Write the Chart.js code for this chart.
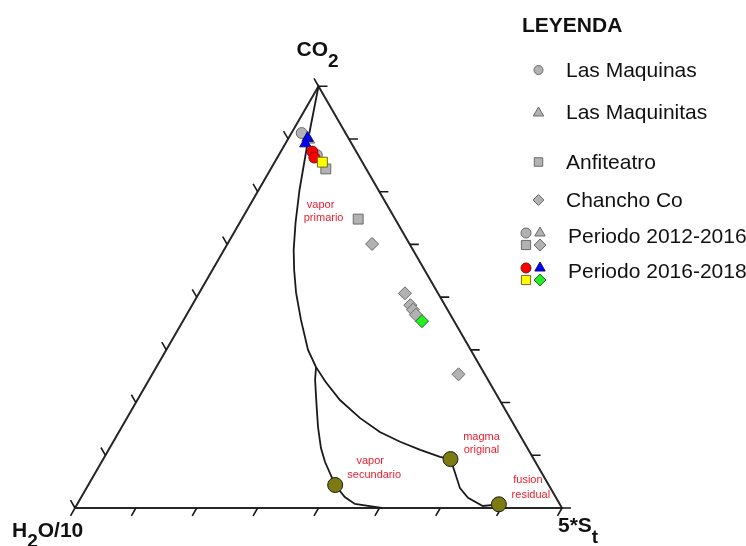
<!DOCTYPE html>
<html><head><meta charset="utf-8">
<script src="https://cdn.jsdelivr.net/npm/chart.js@4.4.0/dist/chart.umd.min.js"></script>
<style>html,body{margin:0;padding:0;background:#fff}#wrap{width:746px;height:546px;position:relative}</style>
</head><body><div id="wrap"><canvas id="c" width="746" height="546"></canvas></div>
<script>
// Ternary compositions in percent: [CO2, 5*St]  (H2O/10 = 100 - CO2 - 5*St)
const lasMaquinas1216   = [[88.9, 2.1], [83.7, 7.8]];
const lasMaquinitas1216 = [[87.3, 4.4]];
const anfiteatro1216    = [[80.4, 11.3], [68.5, 23.9]];
const chanchoCo1216     = [[62.6, 29.7], [50.9, 42.3], [48.1, 44.8], [47.0, 45.9], [45.8, 47.1], [31.7, 62.9]];
const lasMaquinas1618   = [[84.5, 6.5], [83.1, 7.6]];
const lasMaquinitas1618 = [[87.7, 3.9], [86.4, 4.1]];
const anfiteatro1618    = [[82.0, 9.8]];
const chanchoCo1618     = [[44.3, 49.1]];

// Model curves (percent [CO2, 5*St])
const curvePrimario   = [[100, 0], [88.5, 3.8], [75.4, 8.4], [67.8, 11.4], [61.2, 14.3], [56.4, 16.8], [51.0, 19.9], [44.6, 24.1], [37.5, 29.1], [33.4, 32.8]];
const curveSecundario = [[33.4, 32.8], [30.4, 34.1], [24.4, 37.4], [19.2, 40.3], [14.2, 43.4], [10.9, 45.9], [5.45, 50.7], [2.6, 54.1], [0.95, 57.0], [0.47, 60.3], [0, 63.0]];
const curveMagma      = [[33.4, 32.8], [30.0, 36.4], [25.6, 41.6], [21.3, 47.9], [18.0, 53.6], [15.7, 58.9], [13.8, 64.0], [12.1, 68.9], [11.6, 71.3]];
const curveFusion     = [[11.6, 71.3], [8.3, 73.9], [4.7, 76.7], [2.4, 79.5], [0.47, 83.5], [0.88, 86.6]];
const endMembers      = [[5.45, 50.7], [11.6, 71.3], [0.88, 86.6]];
const endMemberNames  = [["vapor", "secundario"], ["magma", "original"], ["fusion", "residual"]];

const tickSteps = [0, 12.5, 25, 37.5, 50, 62.5, 75, 87.5, 100];
const axisNames = { top: ["CO", "2", ""], left: ["H", "2", "O/10"], right: ["5*S", "t", ""] };
const legendSites = ["Las Maquinas", "Las Maquinitas", "Anfiteatro", "Chancho Co"];
const legendPeriods = ["Periodo 2012-2016", "Periodo 2016-2018"];

const R3 = Math.sqrt(3) / 2;
function xy(p) { const c = p[0] / 100, s = p[1] / 100; return { x: s + c / 2, y: c * R3 }; }

// Pixel frame: 1 ternary unit = 487px; H2O vertex at (75,508)
const U = 487;
const xMin = -75 / U, xMax = (746 - 75) / U;
const yMin = -(546 - 508) / U, yMax = 508 / U;
const TL = 9 / U; // tick length

const tickData = [];
function addTick(p, dx, dy) {
  tickData.push({ x: p.x, y: p.y }, { x: p.x + dx * TL, y: p.y + dy * TL }, { x: NaN, y: NaN });
}
tickSteps.forEach(t => {
  addTick(xy([0, t]), -0.5, -R3);          // base: down-left
  addTick(xy([t, 0]), -0.5, R3);           // left edge: up-left
  addTick(xy([t, 100 - t]), 1, 0);         // right edge: right
});
const frame = [xy([0, 0]), xy([0, 100]), xy([100, 0]), xy([0, 0])];

const GRAY = '#b2b2b2', GRAYB = '#6a6a6a';
const FONT = "'Liberation Sans', Arial, sans-serif";

function pts(arr) { return arr.map(xy); }
function markerSet(data, style, fill, stroke, r) {
  return { type: 'scatter', data: pts(data), pointStyle: style, pointRadius: r, pointHoverRadius: r,
    backgroundColor: fill, borderColor: stroke, pointBorderWidth: 1, borderWidth: 1, showLine: false, clip: false };
}
function lineSet(data, w, color) {
  return { type: 'line', data: Array.isArray(data[0]) ? pts(data) : data, showLine: true, borderColor: color,
    borderWidth: w, pointRadius: 0, pointHoverRadius: 0, fill: false, tension: 0, spanGaps: false, clip: false };
}

const datasets = [
  markerSet(endMembers, 'circle', '#7b7b12', '#1a1a1a', 7.5),
  markerSet(chanchoCo1618, 'rectRot', '#22ee22', '#2a6a2a', 6.5),
  markerSet(anfiteatro1618, 'rect', '#ffff00', '#6a6a2a', 7),
  markerSet(lasMaquinas1618, 'circle', '#ff0000', '#7a1010', 5.5),
  markerSet(lasMaquinitas1618, 'triangle', '#0000ff', '#10106a', 6.5),
  markerSet(lasMaquinitas1216, 'triangle', GRAY, GRAYB, 6.5),
  markerSet(lasMaquinas1216, 'circle', GRAY, GRAYB, 5.5),
  markerSet(anfiteatro1216, 'rect', GRAY, GRAYB, 7),
  markerSet(chanchoCo1216, 'rectRot', GRAY, GRAYB, 6.5),
  lineSet(curvePrimario, 1.8, '#1a1a1a'),
  lineSet(curveSecundario, 1.8, '#1a1a1a'),
  lineSet(curveMagma, 1.8, '#1a1a1a'),
  lineSet(curveFusion, 1.8, '#1a1a1a'),
  lineSet(tickData, 1.6, '#1a1a1a'),
  lineSet(frame, 2, '#262626')
];

function drawMarker(ctx, style, x, y, r, fill, stroke) {
  ctx.save(); ctx.beginPath();
  if (style === 'circle') ctx.arc(x, y, r, 0, Math.PI * 2);
  else if (style === 'rect') { const h = r * Math.SQRT1_2; ctx.rect(x - h, y - h, 2 * h, 2 * h); }
  else if (style === 'rectRot') { ctx.moveTo(x, y - r); ctx.lineTo(x + r, y); ctx.lineTo(x, y + r); ctx.lineTo(x - r, y); ctx.closePath(); }
  else if (style === 'triangle') { ctx.moveTo(x, y - r); ctx.lineTo(x + r * R3, y + r / 2); ctx.lineTo(x - r * R3, y + r / 2); ctx.closePath(); }
  ctx.fillStyle = fill; ctx.fill(); ctx.strokeStyle = stroke; ctx.lineWidth = 1; ctx.stroke(); ctx.restore();
}

function subText(ctx, parts, x, y, size, subSize, drop) {
  ctx.textBaseline = 'alphabetic'; ctx.textAlign = 'left';
  ctx.font = 'bold ' + size + 'px ' + FONT; ctx.fillText(parts[0], x, y);
  x += ctx.measureText(parts[0]).width;
  ctx.font = 'bold ' + subSize + 'px ' + FONT; ctx.fillText(parts[1], x, y + drop);
  x += ctx.measureText(parts[1]).width;
  ctx.font = 'bold ' + size + 'px ' + FONT; ctx.fillText(parts[2], x, y);
}

const overlay = {
  id: 'overlay',
  afterDraw(chart) {
    const ctx = chart.ctx, sx = chart.scales.x, sy = chart.scales.y;
    const px = p => ({ x: sx.getPixelForValue(p.x), y: sy.getPixelForValue(p.y) });
    ctx.save();
    ctx.fillStyle = '#111';
    const top = px(xy([100, 0])), left = px(xy([0, 0])), right = px(xy([0, 100]));
    subText(ctx, axisNames.top, top.x - 22, top.y - 30, 21, 19, 11);
    subText(ctx, axisNames.left, left.x - 63, left.y + 29, 21, 19, 10);
    subText(ctx, axisNames.right, right.x - 4, right.y + 24, 21, 19, 11);

    // red annotations
    ctx.fillStyle = '#ee1c2e'; ctx.font = '11px ' + FONT; ctx.textAlign = 'center'; ctx.textBaseline = 'middle';
    const prim = px(xy(curvePrimario[3]));
    ctx.fillText('vapor', prim.x + 25, prim.y - 17);
    ctx.fillText('primario', prim.x + 28, prim.y - 4);
    const offs = [[35, -24, 39, -10], [31, -22, 31, -9], [29, -24, 32, -9]];
    endMembers.forEach((m, i) => {
      const p = px(xy(m)), o = offs[i];
      ctx.fillText(endMemberNames[i][0], p.x + o[0], p.y + o[1]);
      ctx.fillText(endMemberNames[i][1], p.x + o[2], p.y + o[3]);
    });

    // legend
    ctx.fillStyle = '#111'; ctx.textAlign = 'left'; ctx.textBaseline = 'alphabetic';
    ctx.font = 'bold 21px ' + FONT; ctx.fillText('LEYENDA', 522, 32);
    ctx.font = '21px ' + FONT; ctx.textBaseline = 'middle';
    const styles = ['circle', 'triangle', 'rect', 'rectRot'];
    const rows = [71, 113, 163, 201];
    const lr = [4.5, 6, 6, 5.5];
    legendSites.forEach((name, i) => {
      drawMarker(ctx, styles[i], 538.5, rows[i] - (i === 1 ? 0 : 1), lr[i], GRAY, GRAYB);
      ctx.fillStyle = '#111'; ctx.fillText(name, 566, rows[i]);
    });
    const pRows = [237, 272];
    const pCols = [[GRAY, GRAY, GRAY, GRAY], ['#ff0000', '#0000ff', '#ffff00', '#22ee22']];
    const pStroke = [[GRAYB, GRAYB, GRAYB, GRAYB], ['#7a1010', '#10106a', '#6a6a2a', '#2a6a2a']];
    legendPeriods.forEach((name, i) => {
      const y = pRows[i];
      drawMarker(ctx, 'circle', 526, y - 4, 5, pCols[i][0], pStroke[i][0]);
      drawMarker(ctx, 'triangle', 540, y - 4, 6, pCols[i][1], pStroke[i][1]);
      drawMarker(ctx, 'rect', 526, y + 8, 6.5, pCols[i][2], pStroke[i][2]);
      drawMarker(ctx, 'rectRot', 540, y + 8, 6, pCols[i][3], pStroke[i][3]);
      ctx.fillStyle = '#111'; ctx.fillText(name, 568, y);
    });
    ctx.restore();
  }
};

new Chart(document.getElementById('c'), {
  type: 'scatter',
  data: { datasets },
  options: {
    responsive: false, animation: false, events: [],
    layout: { padding: 0, autoPadding: false },
    plugins: { legend: { display: false }, tooltip: { enabled: false } },
    scales: {
      x: { type: 'linear', display: false, min: xMin, max: xMax },
      y: { type: 'linear', display: false, min: yMin, max: yMax }
    }
  },
  plugins: [overlay]
});
</script></body></html>
